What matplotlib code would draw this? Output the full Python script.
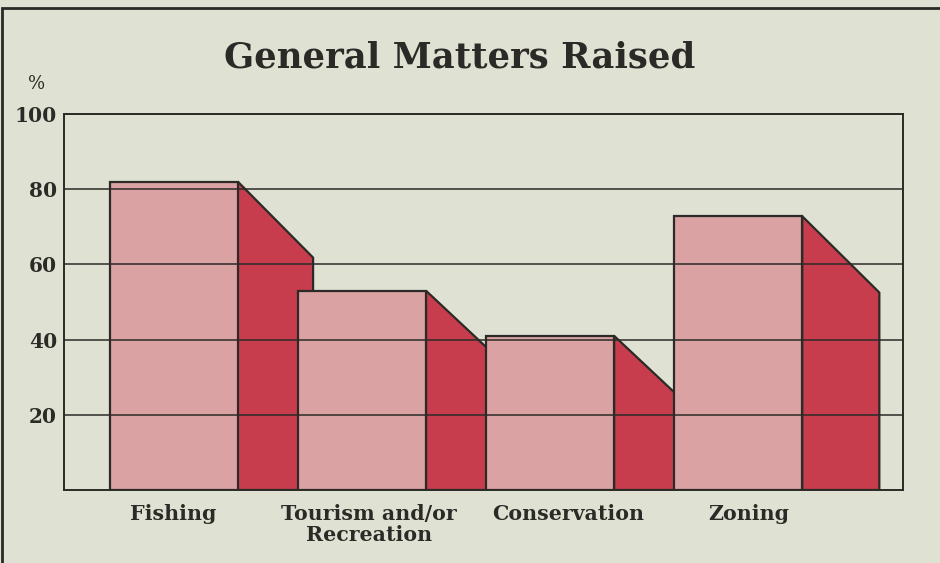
#!/usr/bin/env python3
"""Stepped 3D-ish bar chart: General Matters Raised."""

import matplotlib.pyplot as plt
from matplotlib.patches import Polygon, Rectangle

CATEGORIES = ["Fishing", "Tourism and/or\nRecreation", "Conservation", "Zoning"]
FRONT_VALUES = [82, 53, 41, 72.8]   # top of front face (%)
BACK_VALUES = [61.8, 38, 25.5, 52.5]  # where shaded side face ends (%)
Y_TICKS = [20, 40, 60, 80, 100]

# layout (x units chosen so 1 x-unit looks as long as 1 y-unit)
X_MAX = 223
OFFSET = 12.2
STEP = 50.0
FRONT_W = 34
SIDE_W = [20, 16, 16.5, 20.5]
LABEL_X = [29, 81, 134, 182]

BG = "#dfe2d3"
FRONT = "#dba2a3"
SIDE = "#c83d4d"
INK = "#2b2a26"
SERIF = "DejaVu Serif"


def main():
    fig = plt.figure(figsize=(9.4, 5.63), dpi=100, facecolor=BG)
    ax = fig.add_axes([0.0681, 0.1297, 0.8926, 0.6679], facecolor=BG)
    ax.set_xlim(0, X_MAX)
    ax.set_ylim(0, 100)

    for i, (top, back) in enumerate(zip(FRONT_VALUES, BACK_VALUES)):
        x0 = OFFSET + i * STEP
        x1 = x0 + FRONT_W
        x2 = x1 + SIDE_W[i]
        side = Polygon([(x1, 0), (x1, top), (x2, back), (x2, 0)], closed=True,
                       facecolor=SIDE, edgecolor=INK, linewidth=1.6,
                       joinstyle="miter", zorder=2 + 2 * i)
        front = Rectangle((x0, 0), FRONT_W, top, facecolor=FRONT,
                          edgecolor=INK, linewidth=1.6, zorder=3 + 2 * i)
        ax.add_patch(side)
        ax.add_patch(front)

    for y in Y_TICKS:
        ax.axhline(y, color=INK, linewidth=1.1, zorder=20)

    ax.set_yticks(Y_TICKS)
    ax.set_yticklabels([str(y) for y in Y_TICKS], fontsize=14.5,
                       fontweight="bold", family=SERIF, color=INK)
    ax.tick_params(axis="y", length=0, pad=5)
    ax.set_xticks([])
    for s in ax.spines.values():
        s.set_color(INK)
        s.set_linewidth(1.4)
        s.set_zorder(25)

    for lx, lab in zip(LABEL_X, CATEGORIES):
        ax.text(lx, -3.8, lab, ha="center", va="top", fontsize=14.8,
                fontweight="bold", family=SERIF, color=INK,
                linespacing=1.05)

    ax.text(-0.033, 1.08, "%", transform=ax.transAxes, ha="center",
            va="center", fontsize=13, family=SERIF, color=INK)

    fig.text(0.489, 0.897, "General Matters Raised", ha="center",
             va="center", fontsize=25.5, fontweight="bold", family=SERIF,
             color=INK)

    # outer frame of the panel (runs off right and bottom edges)
    fig.add_artist(Rectangle((2 / 940, -0.1), 1.2, 1.1 - 8 / 563,
                             transform=fig.transFigure, fill=False,
                             edgecolor=INK, linewidth=2.0))

    fig.savefig("out.png", dpi=100, facecolor=BG)


if __name__ == "__main__":
    main()
